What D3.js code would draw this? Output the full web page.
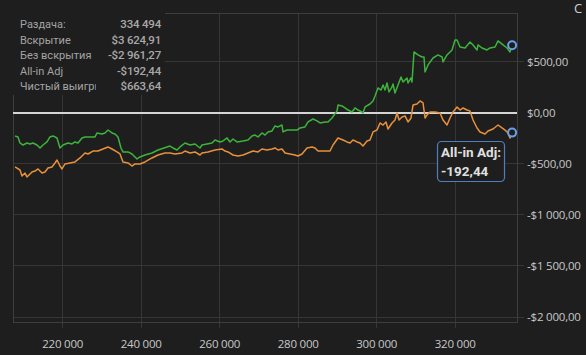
<!DOCTYPE html>
<html><head><meta charset="utf-8">
<script src="https://cdn.jsdelivr.net/npm/d3@7"></script>
<style>
html,body{margin:0;padding:0;background:#1e1e1e;}
svg{display:block;}
text{font-family:"Open Sans","Noto Sans",sans-serif;}
</style></head>
<body>
<svg id="c" width="586" height="355"></svg>
<script>
// ---- data ----
const netHands = [207850,208610,209120,209890,210900,211670,212430,213450,214220,214980,216000,216760,217530,218550,219310,220080,221350,222370,223130,223900,224920,225680,226960,228230,228740,230010,230780,231540,232560,233320,234090,234850,235360,236640,237660,238420,238930,239690,240970,242750,244280,246570,247340,248100,249120,249890,251160,252430,253710,254980,255490,256760,258040,258800,260080,260840,261860,262620,263390,264410,265940,267210,268230,268990,269760,270780,271540,272310,273330,274090,274850,275870,276130,277150,278420,279700,280460,281730,282500,283770,284790,285560,286830,287590,288610,289890,290140,291160,291920,292690,293710,294470,295240,296260,296510,297020,298290,299060,299570,300330,301100,301610,302120,302620,303130,303900,304150,304660,305430,306190,306700,307720,307980,308740,308990,309500,310520,311540,312050,312310,313070,314350,315620,316640,316890,317910,319190,319950,320460,321220,322500,323770,324540,325560,325810,326830,328100,328870,330140,330910,332180,333200,333960,334494];
const netWon = [-225,-235,-294,-314,-294,-304,-294,-314,-343,-314,-284,-235,-225,-245,-343,-314,-294,-304,-284,-294,-245,-235,-235,-235,-196,-206,-196,-167,-196,-206,-235,-343,-382,-382,-402,-431,-451,-431,-412,-392,-363,-333,-324,-343,-363,-333,-294,-314,-304,-343,-314,-304,-294,-265,-284,-275,-245,-284,-255,-284,-275,-265,-225,-216,-235,-196,-216,-186,-176,-127,-137,-118,-186,-167,-167,-167,-147,-137,-88,-59,-78,-98,-88,-88,-49,20,78,69,49,29,10,49,29,10,0,59,88,118,167,245,225,275,225,294,206,255,284,196,275,353,304,343,294,343,304,598,569,549,549,402,471,539,569,549,500,569,618,716,716,647,637,696,667,618,667,637,618,637,647,706,667,637,598,663.64];
const adjHands = [207850,209120,209630,210400,210900,212180,212940,213710,214730,215490,216250,217270,218040,218550,219310,219820,220590,221860,223130,224410,225680,226450,227720,228990,230270,231540,232560,233830,234600,235360,236640,237660,238420,239690,240970,242750,244280,246060,247340,248610,250400,251160,252430,253710,254980,255490,257020,258800,260580,261350,262120,263390,264660,265940,267210,268480,269760,270780,272050,273330,274090,274850,275870,276640,277910,279190,279950,280970,282240,283520,284280,285050,286320,288100,288870,290140,291420,292430,293200,293960,294980,295750,296510,297530,298290,299060,300080,300840,301610,302370,302880,303900,304660,305170,305680,306450,307210,307980,308740,309250,310270,311030,311800,312310,312820,313580,314850,316130,316890,317910,318680,319440,320460,321220,321990,323010,323770,324540,325560,326320,327590,328360,329630,330910,331930,332690,333450,333960,334494];
const allInAdj = [-529,-559,-618,-588,-627,-578,-569,-549,-588,-578,-539,-529,-490,-461,-520,-549,-500,-490,-480,-441,-392,-402,-373,-373,-353,-333,-353,-382,-402,-480,-490,-520,-500,-500,-480,-441,-412,-392,-392,-402,-392,-373,-392,-382,-412,-392,-382,-363,-353,-373,-382,-412,-422,-412,-392,-373,-382,-353,-363,-353,-343,-363,-353,-392,-402,-412,-422,-402,-343,-333,-343,-373,-373,-373,-314,-245,-265,-284,-294,-265,-284,-294,-324,-275,-265,-186,-167,-98,-118,-88,-157,-98,-69,0,-69,-39,-29,-88,-49,78,88,118,98,-49,-20,10,10,0,-69,-118,-49,10,59,29,49,29,20,-69,-147,-186,-206,-176,-157,-118,-147,-167,-196,-245,-192.44];
const yTicks = [500,0,-500,-1000,-1500,-2000];
const xTicks = [220000,240000,260000,280000,300000,320000];
const legendLabels = ["Раздача:","Вскрытие","Без вскрытия","All-in Adj","Чистый выигрыш"];
const legendValues = ["334 494","$3 624,91","-$2 961,27","-$192,44","$663,64"];
const tooltipLines = ["All-in Adj:","-192,44"];

// ---- layout ----
const svg = d3.select("#c");
const L=13, R=517, T=13, B=322;
const x = d3.scaleLinear().domain([207340,335740]).range([L,R]);
const y = d3.scaleLinear().domain([-2049,980]).range([B,T]);

svg.append("rect").attr("width",586).attr("height",355).attr("fill","#1e1e1e");

const fmtMoney = v => {
  const s = v<0?"-":"";
  const a = Math.abs(v);
  const int = Math.floor(a).toString().replace(/\B(?=(\d{3})+(?!\d))/g," ");
  const dec = Math.round((a-Math.floor(a))*100).toString().padStart(2,"0");
  return s+"$"+int+","+dec;
};
const fmtHands = v => v.toString().replace(/\B(?=(\d{3})+(?!\d))/g," ");

// grid
const g = svg.append("g");
g.selectAll("line.h").data(yTicks.filter(d=>d!==0)).join("line")
  .attr("x1",L).attr("x2",524).attr("y1",d=>y(d)).attr("y2",d=>y(d))
  .attr("stroke","#363636").attr("stroke-width",1).attr("shape-rendering","crispEdges");
g.selectAll("line.v").data(xTicks).join("line")
  .attr("x1",d=>x(d)).attr("x2",d=>x(d)).attr("y1",T).attr("y2",328)
  .attr("stroke","#363636").attr("stroke-width",1).attr("shape-rendering","crispEdges");
// frame
g.append("rect").attr("x",L).attr("y",T).attr("width",R-L).attr("height",B-T)
  .attr("fill","none").attr("stroke","#3e3e3e").attr("stroke-width",1).attr("shape-rendering","crispEdges");
// zero line
g.append("line").attr("x1",L).attr("x2",R).attr("y1",y(0)).attr("y2",y(0))
  .attr("stroke","#d4d4d4").attr("stroke-width",2);

// axis labels
svg.append("g").selectAll("text").data(yTicks).join("text")
  .attr("x",527).attr("y",d=>y(d)).attr("dy","0.35em")
  .attr("fill","#c8c8c8").attr("font-size",11.5).attr("letter-spacing",-0.2).text(d=>fmtMoney(d));
svg.append("g").selectAll("text").data(xTicks).join("text")
  .attr("x",d=>x(d)).attr("y",348).attr("text-anchor","middle")
  .attr("fill","#c8c8c8").attr("font-size",11.5).attr("letter-spacing",-0.2).text(d=>fmtHands(d));

// lines
const line = d3.line().x(d=>x(d[0])).y(d=>y(d[1]));
svg.append("path").datum(adjHands.map((h,i)=>[h,allInAdj[i]]))
  .attr("d",line).attr("fill","none").attr("stroke","#e8913a").attr("stroke-width",1.5).attr("stroke-linejoin","round");
svg.append("path").datum(netHands.map((h,i)=>[h,netWon[i]]))
  .attr("d",line).attr("fill","none").attr("stroke","#3cb43c").attr("stroke-width",1.5).attr("stroke-linejoin","round");

// end markers
const ends = [[netHands[netHands.length-1],netWon[netWon.length-1]],[adjHands[adjHands.length-1],allInAdj[allInAdj.length-1]]];
svg.append("g").selectAll("circle").data(ends).join("circle")
  .attr("cx",d=>x(d[0])).attr("cy",d=>y(d[1])).attr("r",4)
  .attr("fill","#1e1e1e").attr("stroke","#6a9fe6").attr("stroke-width",2);

// legend box
const lg = svg.append("g");
lg.append("rect").attr("x",L).attr("y",T-1).attr("width",152).attr("height",83).attr("fill","#1e1e1e");
const clip = svg.append("defs").append("clipPath").attr("id","lclip");
clip.append("rect").attr("x",14).attr("y",0).attr("width",82).attr("height",100);
lg.selectAll("text.l").data(legendLabels).join("text")
  .attr("x",20).attr("y",(d,i)=>28+i*15.5).attr("clip-path","url(#lclip)")
  .style("font-family","Roboto, sans-serif")
  .attr("fill","#a4a4a4").attr("font-size",11).text(d=>d);
lg.selectAll("text.v").data(legendValues).join("text")
  .attr("x",161).attr("y",(d,i)=>28+i*15.5).attr("text-anchor","end")
  .style("font-family","Roboto, sans-serif")
  .attr("fill","#a8a8a8").attr("font-size",11.5).attr("font-weight",500).attr("letter-spacing",-0.2).text(d=>d);

// tooltip
const tt = svg.append("g");
tt.append("rect").attr("x",437.5).attr("y",141.5).attr("width",67).attr("height",40).attr("rx",4)
  .attr("fill","#1e1e1e").attr("stroke","#4f7fc0").attr("stroke-width",1.2);
tt.selectAll("text").data(tooltipLines).join("text")
  .attr("x",441).attr("y",(d,i)=>157+i*19)
  .style("font-family","Roboto, sans-serif")
  .attr("fill","#e0e0e0").attr("font-size",13.5).attr("font-weight",700).text(d=>d);

// corner glyph
svg.append("text").attr("x",574).attr("y",13).attr("fill","#cfcfcf").attr("font-size",13).text("C");
</script>
</body></html>
